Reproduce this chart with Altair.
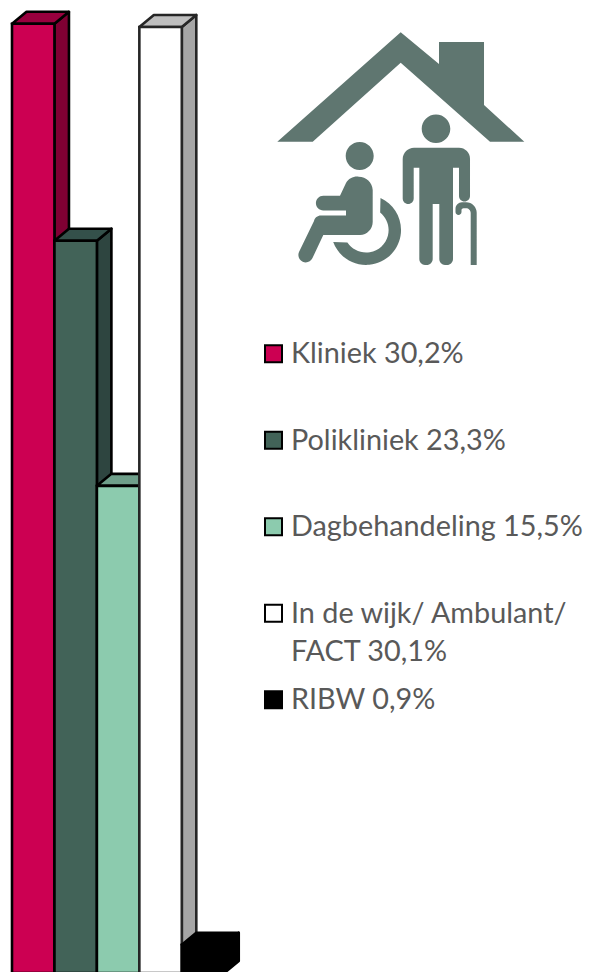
import altair as alt
import pandas as pd

# ---- data
categories = ["Kliniek", "Polikliniek", "Dagbehandeling", "In de wijk/ Ambulant/\nFACT", "RIBW"]
values = [30.2, 23.3, 15.5, 30.1, 0.9]
value_text = ["30,2%", "23,3%", "15,5%", "30,1%", "0,9%"]
front_colors = ["#CC0052", "#426358", "#8CCBAE", "#FFFFFF", "#000000"]
top_colors = ["#99003E", "#34504A", "#6F9F8A", "#BFBFBF", "#000000"]
side_colors = ["#7F0033", "#2E4540", "#5F8A77", "#A6A6A6", "#000000"]
edge_colors = ["#000000", "#000000", "#000000", "#262626", "#000000"]
rows = [0, 1, 2, 3, 4]

# ---- layout constants
W, H = 575, 964
SLOT = 42.45               # bar width in pixels
DEPTH_X = 14.5 / SLOT      # depth of the 3D bars, in bar widths
DEPTH_Y = 12 / 31.43       # depth of the 3D bars, in value units
X_SCALE = alt.Scale(domain=[(8 - 12) / SLOT, (8 + W - 12) / SLOT], range=[0, W], nice=False, zero=False)
Y_SCALE = alt.Scale(domain=[(973 - 8 - H) / 31.43, (973 - 8) / 31.43], range=[H, 0], nice=False, zero=False)
EDGE = 2.6

def q(field, scale):
    return alt.X(field, type="quantitative", scale=scale, axis=None)

def qy(field, scale):
    return alt.Y(field, type="quantitative", scale=scale, axis=None)

layers = []
for i, v in enumerate(values):
    side = pd.DataFrame({"x": [i + 1, i + 1 + DEPTH_X],
                         "hi": [v, v + DEPTH_Y],
                         "lo": [0, DEPTH_Y]})
    top = pd.DataFrame({"y": [v, v + DEPTH_Y],
                        "a": [i, i + DEPTH_X],
                        "b": [i + 1, i + 1 + DEPTH_X]})
    front = pd.DataFrame({"a": [i], "b": [i + 1], "hi": [v], "lo": [0]})
    layers.append(
        alt.Chart(side).mark_area(clip=True, fill=side_colors[i], stroke=edge_colors[i],
                                  strokeWidth=EDGE, strokeJoin="round")
        .encode(x=q("x", X_SCALE), y=qy("hi", Y_SCALE), y2="lo")
    )
    layers.append(
        alt.Chart(top).mark_area(clip=True, orient="horizontal", fill=top_colors[i],
                                 stroke=edge_colors[i], strokeWidth=EDGE, strokeJoin="round")
        .encode(y=qy("y", Y_SCALE), x=q("a", X_SCALE), x2="b")
    )
    layers.append(
        alt.Chart(front).mark_rect(clip=True, fill=front_colors[i], stroke=edge_colors[i],
                                   strokeWidth=EDGE)
        .encode(x=q("a", X_SCALE), x2="b", y=qy("hi", Y_SCALE), y2="lo")
    )
bars = alt.layer(*layers)

# ---- legend
legend_df = pd.DataFrame({
    "row": rows,
    "label": [f"{c} {t}" for c, t in zip(categories, value_text)],
    "fill": front_colors,
})
ROW_SCALE = alt.Scale(domain=[0, 4], range=[355, 701], nice=False, zero=False)
legend_text = alt.Chart(legend_df).mark_text(
    align="left", baseline="alphabetic", font="Lato", fontSize=28.8, color="#595959",
    lineBreak="\n", lineHeight=38,
).encode(x=alt.value(283), y=qy("row", ROW_SCALE), text="label:N")
legend_swatch = alt.Chart(legend_df).mark_point(
    shape="square", filled=True, size=289, stroke="#000000", strokeWidth=2, opacity=1, yOffset=-9.3,
).encode(x=alt.value(265.5), y=qy("row", ROW_SCALE),
         fill=alt.Fill("fill:N", scale=None))
legend = alt.layer(legend_text, legend_swatch)

# ---- pictogram, a single compound path in page pixels normalised to symbol units
CX, CY, HALF = 400.0, 148.0, 130.0

def nx(x):
    return f"{(x - CX) / HALF:.4f}"

def ny(y):
    return f"{(y - CY) / HALF:.4f}"

def nr(r):
    return f"{r / HALF:.4f}"

def M(x, y):
    return f"M{nx(x)} {ny(y)}"

def L(x, y):
    return f"L{nx(x)} {ny(y)}"

def A(r, large, sweep, x, y):
    return f"A{nr(r)} {nr(r)} 0 {large} {sweep} {nx(x)} {ny(y)}"

def circle(x, y, r):
    return M(x - r, y) + A(r, 1, 1, x + r, y) + A(r, 1, 1, x - r, y) + "Z"

house = (M(400.7, 32.3) + L(277.3, 141.7) + L(312.7, 141.7) + L(400.7, 62.7) + L(490, 141.7)
         + L(524.3, 141.7) + L(484, 105) + L(484, 42) + L(439, 42) + L(439, 64) + "Z")
man = (M(402.7, 159) + A(11.5, 0, 1, 414, 147.7) + L(459, 147.7) + A(11, 0, 1, 470, 159)
       + L(470, 196) + A(5.5, 0, 1, 459, 196) + L(459, 167.7) + L(453, 167.7) + L(453, 259)
       + A(6, 0, 1, 447, 265) + L(445, 265) + A(6, 0, 1, 439.3, 259) + L(439.3, 204)
       + L(432.7, 204) + L(432.7, 259) + A(6, 0, 1, 426.7, 265) + L(425, 265)
       + A(6, 0, 1, 419.3, 259) + L(419.3, 167.7) + L(413.7, 167.7) + L(413.7, 198.5)
       + A(5.5, 0, 1, 402.7, 198.5) + "Z")
cane = (M(476.7, 265) + L(476.7, 213) + A(10.5, 0, 0, 466.2, 202.3) + L(462, 202.3)
        + A(6.5, 0, 0, 455.5, 209) + L(455.5, 212) + A(3, 0, 0, 461.5, 212) + L(461.5, 210)
        + A(2, 0, 1, 463.5, 208.3) + L(466, 208.3) + A(4.7, 0, 1, 470.7, 213) + L(470.7, 265) + "Z")
sitter = (M(358.7, 176.7) + A(14, 0, 1, 372.7, 190) + L(372.7, 222) + A(13, 0, 1, 360, 235)
          + L(323.3, 235) + L(312.5, 258) + A(7, 0, 1, 299, 252) + L(314, 221)
          + A(7, 0, 1, 321, 215.5) + L(346, 215.5) + L(346, 210.5) + L(323.3, 210.5)
          + A(7.4, 0, 1, 323.3, 195.7) + L(340, 195.7) + L(346, 183) + A(13, 0, 1, 358.7, 176.7) + "Z")
wheel = (M(380.5, 198.1) + A(35, 1, 1, 333.2, 242.1) + L(347.4, 242.6)
         + A(22.5, 1, 0, 380.15, 212.5) + "Z")
icon_path = (house + circle(436, 128.7, 14.3) + man + cane + circle(359.7, 156, 14) + sitter + wheel)

icon = alt.Chart(pd.DataFrame({"i": [0]})).mark_point(
    shape=icon_path, filled=True, size=(2 * HALF) ** 2, color="#5F7670", opacity=1, strokeWidth=0,
).encode(x=alt.value(CX - 8), y=alt.value(CY - 8))

chart = (
    alt.layer(bars, icon, legend)
    .resolve_scale(x="independent", y="independent")
    .properties(width=W, height=H, padding=0, background="white",
                autosize=alt.AutoSizeParams(type="none"))
    .configure_view(stroke=None)
)
chart.save("out.html", embed_options={"renderer": "svg", "actions": False})
